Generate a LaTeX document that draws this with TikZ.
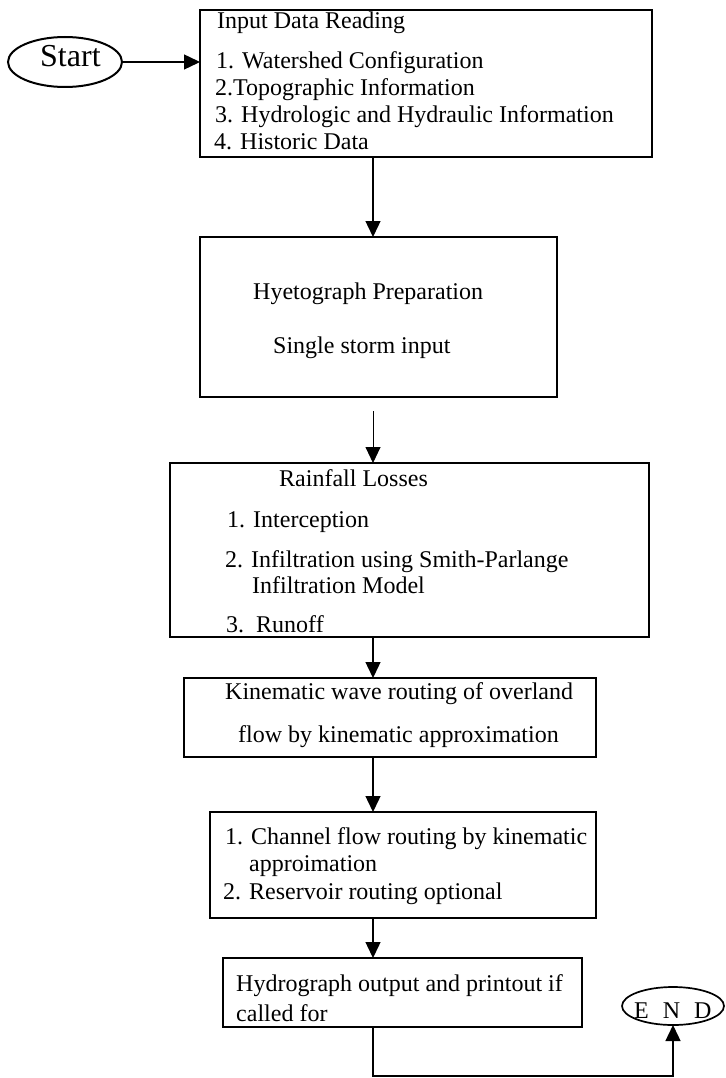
\documentclass[tikz,border=0pt]{standalone}
\usepackage{fontspec}
\setmainfont{Liberation Serif}
\usetikzlibrary{arrows.meta,shapes.geometric}
\begin{document}
\begin{tikzpicture}[x=1pt,y=-1pt,
  box/.style={draw,line width=1.7pt,rectangle,inner sep=0pt,outer sep=0pt},
  oval/.style={draw,ellipse,inner sep=0pt,outer sep=0pt},
  txt/.style={anchor=base west,inner sep=0pt,font=\fontsize{24}{27}\selectfont},
  arr/.style={line width=1.4pt,-{Triangle[length=16pt,width=15pt]}},
  thinarr/.style={line width=0.9pt,-{Triangle[length=16pt,width=15pt]}}]
\useasboundingbox (0,0) rectangle (725,1078);

% terminals
\node[oval,line width=2pt,minimum width=114pt,minimum height=50pt] (start) at (65,62) {};
\node[txt,font=\fontsize{32}{36}\selectfont] (starttxt) at (40,67) {Start};
\node[oval,line width=1.7pt,minimum width=102pt,minimum height=38pt] (end) at (673,1006) {};
\node[txt] (endtxt) at (634,1018) {E\hspace{14pt}N\hspace{14pt}D};

% process boxes
\node[box,minimum width=452pt,minimum height=147pt] (b1) at (426,83.5) {};
\node[box,minimum width=357pt,minimum height=160pt] (b2) at (378.5,317) {};
\node[box,minimum width=479pt,minimum height=174pt] (b3) at (409.5,550) {};
\node[box,minimum width=412pt,minimum height=79pt] (b4) at (390,717.5) {};
\node[box,minimum width=386pt,minimum height=106pt] (b5) at (403,865) {};
\node[box,minimum width=359pt,minimum height=69pt] (b6) at (402.5,992.5) {};

% box texts
\node[txt] (t11) at (217,29) {Input Data Reading};
\node[txt] (t12) at (216,69) {1. Watershed Configuration};
\node[txt] (t13) at (215,96) {2.Topographic Information};
\node[txt] (t14) at (215,123) {3. Hydrologic and Hydraulic Information};
\node[txt] (t15) at (214,150) {4. Historic Data};

\node[txt] (t21) at (253,299) {Hyetograph Preparation};
\node[txt] (t22) at (273,353) {Single storm input};

\node[txt] (t31) at (279,486) {Rainfall Losses};
\node[txt] (t32) at (227,527) {1. Interception};
\node[txt] (t33) at (225,567) {2. Infiltration using Smith-Parlange};
\node[txt] (t34) at (252,593) {Infiltration Model};
\node[txt] (t35) at (226,632) {3.\ \ Runoff};

\node[txt] (t41) at (225,699) {Kinematic wave routing of overland};
\node[txt] (t42) at (238,742) {flow by kinematic approximation};

\node[txt] (t51) at (225,844) {1. Channel flow routing by kinematic};
\node[txt] (t52) at (249,871) {approimation};
\node[txt] (t53) at (223,899) {2. Reservoir routing optional};

\node[txt] (t61) at (236,991) {Hydrograph output and printout if};
\node[txt] (t62) at (236,1021) {called for};

% connectors
\coordinate (spine) at (373,0);
\coordinate (floor) at (0,1076);
\draw[arr] (start.east) -- (start.east -| b1.west);
\draw[arr] (b1.south -| spine) -- (b2.north -| spine);
\draw[thinarr,shorten <=14pt] (b2.south -| spine) -- (b3.north -| spine);
\draw[arr] (b3.south -| spine) -- (b4.north -| spine);
\draw[arr] (b4.south -| spine) -- (b5.north -| spine);
\draw[arr] (b5.south -| spine) -- (b6.north -| spine);
\draw[arr] (b6.south -| spine) -- (spine |- floor) -- (end.south |- floor) -- (end.south);
\end{tikzpicture}
\end{document}
